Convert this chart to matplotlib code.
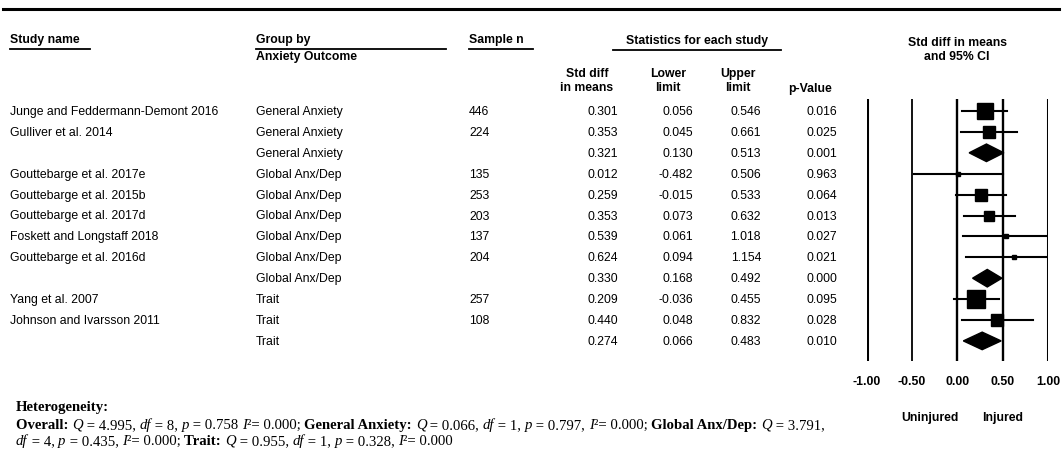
import matplotlib
matplotlib.use('Agg')
import matplotlib.pyplot as plt
import matplotlib.transforms as mtransforms

# ---- data ----
study_names = ["Junge and Feddermann-Demont 2016", "Gulliver et al. 2014", "",
               "Gouttebarge et al. 2017e", "Gouttebarge et al. 2015b", "Gouttebarge et al. 2017d",
               "Foskett and Longstaff 2018", "Gouttebarge et al. 2016d", "",
               "Yang et al. 2007", "Johnson and Ivarsson 2011", ""]
groups = ["General Anxiety", "General Anxiety", "General Anxiety",
          "Global Anx/Dep", "Global Anx/Dep", "Global Anx/Dep", "Global Anx/Dep", "Global Anx/Dep", "Global Anx/Dep",
          "Trait", "Trait", "Trait"]
sample_n = ["446", "224", "", "135", "253", "203", "137", "204", "", "257", "108", ""]
std_diff = [0.301, 0.353, 0.321, 0.012, 0.259, 0.353, 0.539, 0.624, 0.330, 0.209, 0.440, 0.274]
lower = [0.056, 0.045, 0.130, -0.482, -0.015, 0.073, 0.061, 0.094, 0.168, -0.036, 0.048, 0.066]
upper = [0.546, 0.661, 0.513, 0.506, 0.533, 0.632, 1.018, 1.154, 0.492, 0.455, 0.832, 0.483]
p_values = [0.016, 0.025, 0.001, 0.963, 0.064, 0.013, 0.027, 0.021, 0.000, 0.095, 0.028, 0.010]
is_summary = [False, False, True, False, False, False, False, False, True, False, False, True]
# relative weights -> square size
weights = [16, 12, 0, 4, 12, 11, 5, 5, 0, 18, 12, 0]
x_ticks = [-1.0, -0.5, 0.0, 0.5, 1.0]

SANS = "Liberation Sans"
SERIF = "Liberation Serif"
FS = 8.8

fig = plt.figure(figsize=(10.62, 4.56), dpi=100)

# background axes in pixel coordinates
bg = fig.add_axes([0, 0, 1, 1])
bg.set_xlim(0, 1062)
bg.set_ylim(456, 0)
bg.axis('off')

# forest axes: x from 866.7 px to 1048 px, y from 100 px to 362 px
W, H = 1062.0, 456.0
fx0, fx1, fy0, fy1 = 866.7, 1048.0, 100.0, 362.0
fax = fig.add_axes([fx0 / W, 1 - fy1 / H, (fx1 - fx0) / W, (fy1 - fy0) / H])
row0, row_step = 112.0, 20.9
fax.set_xlim(-1, 1)
fax.set_ylim((fy1 - row0) / row_step, (fy0 - row0) / row_step)
for s in fax.spines.values():
    s.set_visible(False)
fax.set_yticks([])
fax.set_xticks(x_ticks)
fax.set_xticklabels([f"{t:.2f}" for t in x_ticks], fontfamily=SANS, fontweight='bold', fontsize=FS)
fax.tick_params(axis='x', length=0, pad=10)
fax.patch.set_alpha(0)

line_w = {-1.0: 2.2, -0.5: 1.3, 0.0: 1.7, 0.5: 1.7, 1.0: 2.2}
for t in x_ticks:
    fax.axvline(t, color='black', lw=line_w[t], zorder=1)

for i in range(len(std_diff)):
    if is_summary[i]:
        xs = [lower[i], std_diff[i], upper[i], std_diff[i]]
        ys = [i, i - 0.42, i, i + 0.42]
        fax.fill(xs, ys, color='black', zorder=3, clip_on=False)
    else:
        lo, hi = max(lower[i], -1), min(upper[i], 1)
        fax.plot([lo, hi], [i, i], color='black', lw=1.5, zorder=2)
        fax.plot(std_diff[i], i, marker='s', color='black',
                 markersize=weights[i] * 0.7, zorder=3)

labtr = mtransforms.blended_transform_factory(fax.transData, bg.transData)
fax.text(-0.3, 418, "Uninjured", transform=labtr,
         ha='center', va='center', fontfamily=SANS, fontweight='bold', fontsize=FS)
fax.text(0.5, 418, "Injured", transform=labtr,
         ha='center', va='center', fontfamily=SANS, fontweight='bold', fontsize=FS)

# ---- table ----
rowtr = mtransforms.blended_transform_factory(bg.transData, fax.transData)
for i in range(len(std_diff)):
    kw = dict(transform=rowtr, va='center', fontfamily=SANS, fontsize=FS)
    bg.text(10, i, study_names[i], ha='left', **kw)
    bg.text(256, i, groups[i], ha='left', **kw)
    bg.text(469, i, sample_n[i], ha='left', **kw)
    bg.text(618, i, f"{std_diff[i]:.3f}", ha='right', **kw)
    bg.text(693, i, f"{lower[i]:.3f}", ha='right', **kw)
    bg.text(761, i, f"{upper[i]:.3f}", ha='right', **kw)
    bg.text(837, i, f"{p_values[i]:.3f}", ha='right', **kw)

hkw = dict(va='center', fontfamily=SANS, fontweight='bold', fontsize=FS)
bg.plot([3, 1059], [10, 10], color='black', lw=2.2)
bg.text(10, 40, "Study name", ha='left', **hkw)
bg.plot([10, 90], [50, 50], color='black', lw=1.3)
bg.text(256, 40, "Group by", ha='left', **hkw)
bg.plot([256, 446], [50, 50], color='black', lw=1.3)
bg.text(256, 57, "Anxiety Outcome", ha='left', **hkw)
bg.text(469, 40, "Sample n", ha='left', **hkw)
bg.plot([469, 533], [50, 50], color='black', lw=1.3)
bg.text(697, 41, "Statistics for each study", ha='center', **hkw)
bg.plot([613, 781], [51, 51], color='black', lw=1.3)
bg.text(587, 81, "Std diff\nin means", ha='center', linespacing=1.25, **hkw)
bg.text(668, 81, "Lower\nlimit", ha='center', linespacing=1.25, **hkw)
bg.text(738, 81, "Upper\nlimit", ha='center', linespacing=1.25, **hkw)
bg.text(810, 89, "p-Value", ha='center', **hkw)
bg.text(957, 50, "Std diff in means\nand 95% CI", ha='center', linespacing=1.3, **hkw)

# ---- heterogeneity footnote ----
line1 = [("Overall: ", 'b'), ("Q", 'i'), (" = 4.995, ", 'r'), ("df", 'i'), (" = 8, ", 'r'),
         ("p", 'i'), (" = 0.758 ", 'r'), ("I", 'i'), ("\u00b2= 0.000; ", 'r'),
         ("General Anxiety: ", 'b'), ("Q", 'i'), (" = 0.066, ", 'r'), ("df", 'i'), (" = 1, ", 'r'),
         ("p", 'i'), (" = 0.797, ", 'r'), ("I", 'i'), ("\u00b2= 0.000; ", 'r'),
         ("Global Anx/Dep: ", 'b'), ("Q", 'i'), (" = 3.791,", 'r')]
line2 = [("df", 'i'), (" = 4, ", 'r'), ("p", 'i'), (" = 0.435, ", 'r'), ("I", 'i'), ("\u00b2= 0.000; ", 'r'),
         ("Trait: ", 'b'), ("Q", 'i'), (" = 0.955, ", 'r'), ("df", 'i'), (" = 1, ", 'r'),
         ("p", 'i'), (" = 0.328, ", 'r'), ("I", 'i'), ("\u00b2= 0.000", 'r')]
styles = {'b': dict(fontweight='bold'), 'i': dict(fontstyle='italic'), 'r': {}}
FS2 = 10.6


def write_run(x, y, pieces):
    prev = None
    for txt, st in pieces:
        kw = dict(fontfamily=SERIF, fontsize=FS2, ha='left', va='bottom', **styles[st])
        if prev is None:
            prev = bg.text(x, y, txt, **kw)
        else:
            prev = bg.annotate(txt, xy=(1, 0), xycoords=prev, **kw)


bg.text(16, 408, "Heterogeneity:", fontfamily=SERIF, fontweight='bold', fontsize=FS2, ha='left', va='center')
write_run(16, 432, line1)
write_run(16, 448, line2)

fig.savefig('out.png', dpi=100)
